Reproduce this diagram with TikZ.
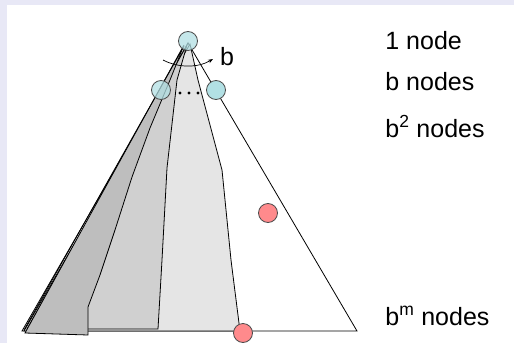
\documentclass[tikz,border=0pt]{standalone}
\usepackage{fontspec}
\setmainfont{Liberation Sans}
\usetikzlibrary{arrows.meta}
\definecolor{PaleLilac}{RGB}{232,232,246}
\definecolor{NodeCyan}{RGB}{178,224,228}
\definecolor{NodeRed}{RGB}{255,138,140}
\definecolor{GreyDark}{RGB}{190,190,190}
\definecolor{GreyMid}{RGB}{208,208,208}
\definecolor{GreyLight}{RGB}{229,229,229}
\newcommand{\levellabel}[3]{%
  \node[lvl] (#1) at (385,#2) {#3};}

\begin{document}
\begin{tikzpicture}[x=1pt,y=-1pt,line width=0.8pt,
  knot/.style={circle,draw=black!70,inner sep=0pt,minimum size=19pt},
  lvl/.style={anchor=base west,inner sep=0pt,font=\fontsize{25}{30}\selectfont}]
  \useasboundingbox (0,0) rectangle (514,343);
  \fill[PaleLilac] (0,0) rectangle (514,343);
  \fill[white] (7,5) rectangle (514,343);
  % search tree
  \coordinate (apex) at (188,43);
  \coordinate (bl) at (22,331);
  \coordinate (br) at (357,331);
  \draw[fill=white] (apex) -- (bl) -- (br) -- cycle;
  % explored parts
  \draw[fill=GreyLight] (190,44) -- (24,331) -- (240,331) -- (231,260)
    -- (222,170) -- (198,80) -- cycle;
  \draw[fill=GreyMid] (187,45) -- (27,329) -- (158,329) -- (162,260)
    -- (167,168) -- (177,80) -- cycle;
  \draw[fill=GreyDark] (184,45) -- (25,333) -- (88,335) -- (88,307)
    -- (100,275) -- (115,230) -- (132,177) -- (150,128) -- (170,80) -- cycle;
  \draw (24,330) -- (184,46);
  \node[knot,fill=NodeCyan,fill opacity=0.75] (root) at (188,41) {};
  \node[knot,fill=NodeCyan,fill opacity=0.75] (bleft) at (161,90) {};
  \node[knot,fill=NodeCyan] (bright) at (216,90) {};
  \node[knot,fill=NodeRed] (goal) at (268,213) {};
  \node[knot,fill=NodeRed] (deep) at (243,333) {};
  % branching
  \fill (180,93) circle (1.6) (189,93) circle (1.6) (198,93) circle (1.6);
  \draw[-{Stealth[length=5pt]},line width=0.7pt] (163,60)
    .. controls (178,68) and (198,68) .. (213,59);
  \node[lvl,anchor=base] (bb) at (227,65) {b};
  \levellabel{l0}{49}{1 node}
  \levellabel{l1}{90}{b nodes}
  \levellabel{l2}{137}{b\textsuperscript{2} nodes}
  \levellabel{lm}{325}{b\textsuperscript{m} nodes}
\end{tikzpicture}
\end{document}
